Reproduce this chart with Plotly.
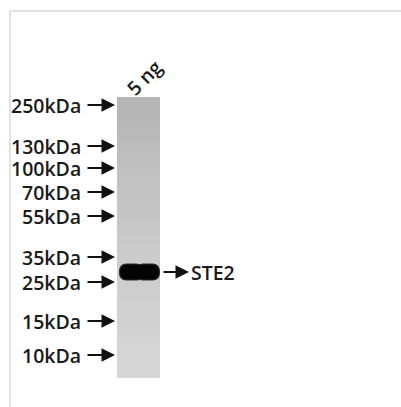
import plotly.graph_objects as go

# ---- data ----
marker_labels = ["250kDa", "130kDa", "100kDa", "70kDa", "55kDa", "35kDa", "25kDa", "15kDa", "10kDa"]
marker_y = [105, 146, 168, 192, 216, 257, 282, 321, 355]
lane_label = "5 ng"
band_label = "STE2"
band_y = 272
lane_x = [117, 160]
lane_rows_y = [97, 137, 177, 217, 257, 297, 337, 378]
lane_shade = [0.72, 0.745, 0.76, 0.775, 0.79, 0.80, 0.815]

W, H = 401, 407
FONT = "Open Sans"
TXT = dict(family=FONT, size=19.5, color="#1a1a1a", weight=600)

fig = go.Figure()

# lane with vertical gradient
fig.add_trace(go.Heatmap(
    x=lane_x, y=lane_rows_y, z=[[v] for v in lane_shade],
    colorscale=[[0, "rgb(182,182,182)"], [1, "rgb(214,214,214)"]],
    zmin=0.72, zmax=0.815, showscale=False, hoverinfo="skip", zsmooth="best",
))

shapes = []
# frame lines
shapes.append(dict(type="line", x0=10, x1=W, y0=11, y1=11, line=dict(color="#e2e2e2", width=2)))
shapes.append(dict(type="line", x0=10, x1=10, y0=11, y1=H, line=dict(color="#e2e2e2", width=2)))

# band (two merged lobes)
bx0, bx1 = 119.5, 159.5
hh = 8
mid = (bx0 + bx1) / 2
path = (f"M {bx0+7},{band_y-hh} L {mid-3},{band_y-hh} Q {mid},{band_y-hh+1.2} {mid+3},{band_y-hh} "
        f"L {bx1-7},{band_y-hh} "
        f"Q {bx1},{band_y-hh} {bx1},{band_y} Q {bx1},{band_y+hh} {bx1-7},{band_y+hh} "
        f"L {mid+3},{band_y+hh} Q {mid},{band_y+hh-1.2} {mid-3},{band_y+hh} "
        f"L {bx0+7},{band_y+hh} Q {bx0},{band_y+hh} {bx0},{band_y} Q {bx0},{band_y-hh} {bx0+7},{band_y-hh} Z")
shapes.append(dict(type="path", path=path, fillcolor="#030303", line=dict(color="#2a2a2a", width=1.2)))

annotations = []
for lab, y in zip(marker_labels, marker_y):
    annotations.append(dict(x=83, y=y, text=lab, showarrow=False, xanchor="right", yanchor="middle",
                            height=20, valign="middle", font=TXT))
    annotations.append(dict(x=115, y=y, ax=86, ay=y, xref="x", yref="y", axref="x", ayref="y",
                            text="", showarrow=True, arrowhead=2, arrowsize=1.35, arrowwidth=2,
                            arrowcolor="#111111"))

# band label
annotations.append(dict(x=189, y=band_y, ax=162, ay=band_y, xref="x", yref="y", axref="x", ayref="y",
                        text="", showarrow=True, arrowhead=2, arrowsize=1.35, arrowwidth=2,
                        arrowcolor="#111111"))
annotations.append(dict(x=189, y=band_y, text=band_label, showarrow=False, xanchor="left", yanchor="middle",
                        font=TXT))

# lane label
annotations.append(dict(x=144, y=77, text=lane_label, showarrow=False, textangle=-45,
                        xanchor="center", yanchor="middle", font=TXT))

fig.update_layout(
    width=W, height=H, margin=dict(l=0, r=0, t=0, b=0),
    paper_bgcolor="white", plot_bgcolor="white",
    xaxis=dict(range=[0, W], visible=False, fixedrange=True),
    yaxis=dict(range=[H, 0], visible=False, fixedrange=True),
    shapes=shapes, annotations=annotations, showlegend=False,
)

fig.write_html("out.html", config={"displayModeBar": False},
               post_script="document.body.style.margin='0';document.body.style.overflow='hidden';")
